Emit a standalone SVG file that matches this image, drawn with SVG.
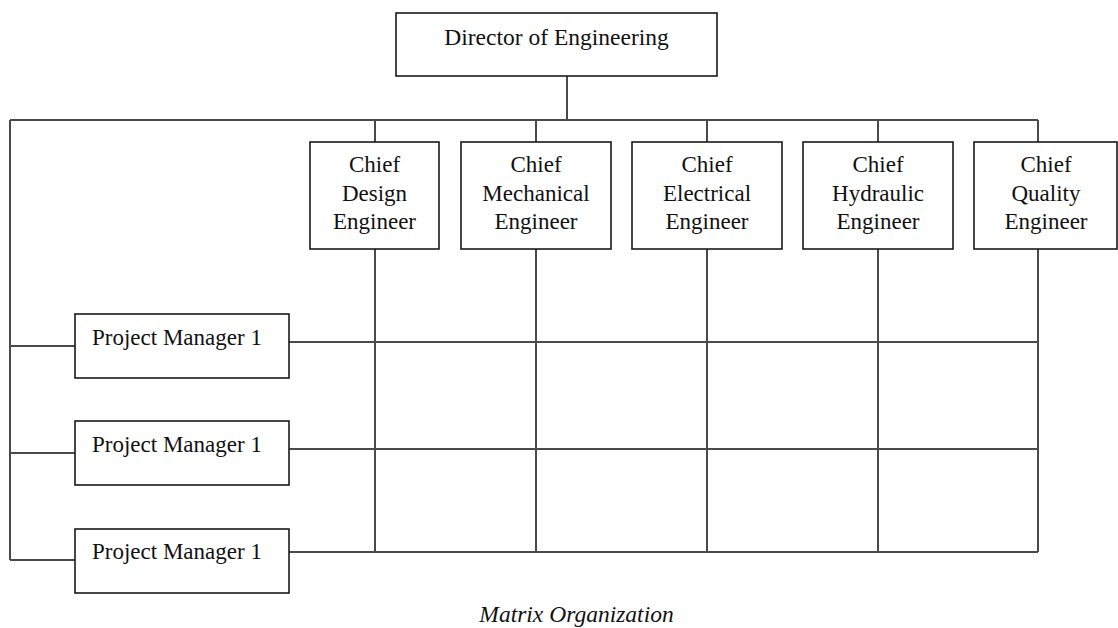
<svg xmlns="http://www.w3.org/2000/svg" width="1118" height="628" viewBox="0 0 1118 628">
<style>
.box{fill:#fff;stroke:#1a1a1a;stroke-width:1.6}
.t{font-family:"Liberation Serif","Times New Roman",serif;font-size:23px;fill:#111}
.c{text-anchor:middle}
.ln{stroke:#4a4a4a;stroke-width:2;fill:none}
</style>
<rect width="1118" height="628" fill="#fff"/>
<g id="connectors">
<path class="ln" d="M567 76V120M10 120H1038M10 120V560M375 120V142M536 120V142M707 120V142M878 120V142M1038 120V142"/>
<path class="ln" d="M375 249V552M536 249V552M707 249V552M878 249V552M1038 249V552"/>
<path class="ln" d="M289 342H1038M289 449H1038M289 552H1038"/>
<path class="ln" d="M10 346H75M10 453H75M10 560H75"/>
</g>
<g id="director">
<rect class="box" x="396" y="13" width="321" height="63"/>
<text class="t c" x="556.5" y="45" style="font-size:23.5px">Director of Engineering</text>
</g>
<g id="chief-design">
<rect class="box" x="310" y="142" width="129" height="107"/>
<text class="t c" x="374.5" y="172">Chief</text>
<text class="t c" x="374.5" y="201">Design</text>
<text class="t c" x="374.5" y="229">Engineer</text>
</g>
<g id="chief-mechanical">
<rect class="box" x="461" y="142" width="150" height="107"/>
<text class="t c" x="536" y="172">Chief</text>
<text class="t c" x="536" y="201">Mechanical</text>
<text class="t c" x="536" y="229">Engineer</text>
</g>
<g id="chief-electrical">
<rect class="box" x="632" y="142" width="150" height="107"/>
<text class="t c" x="707" y="172">Chief</text>
<text class="t c" x="707" y="201">Electrical</text>
<text class="t c" x="707" y="229">Engineer</text>
</g>
<g id="chief-hydraulic">
<rect class="box" x="803" y="142" width="150" height="107"/>
<text class="t c" x="878" y="172">Chief</text>
<text class="t c" x="878" y="201">Hydraulic</text>
<text class="t c" x="878" y="229">Engineer</text>
</g>
<g id="chief-quality">
<rect class="box" x="974" y="142" width="143" height="107"/>
<text class="t c" x="1046" y="172">Chief</text>
<text class="t c" x="1046" y="201">Quality</text>
<text class="t c" x="1046" y="229">Engineer</text>
</g>
<g id="pm1">
<rect class="box" x="75" y="314" width="214" height="64"/>
<text class="t" x="92" y="345">Project Manager 1</text>
</g>
<g id="pm2">
<rect class="box" x="75" y="421" width="214" height="64"/>
<text class="t" x="92" y="452">Project Manager 1</text>
</g>
<g id="pm3">
<rect class="box" x="75" y="529" width="214" height="64"/>
<text class="t" x="92" y="559">Project Manager 1</text>
</g>
<text class="t c" x="576.5" y="622" style="font-style:italic;font-size:23.5px">Matrix Organization</text>
</svg>
